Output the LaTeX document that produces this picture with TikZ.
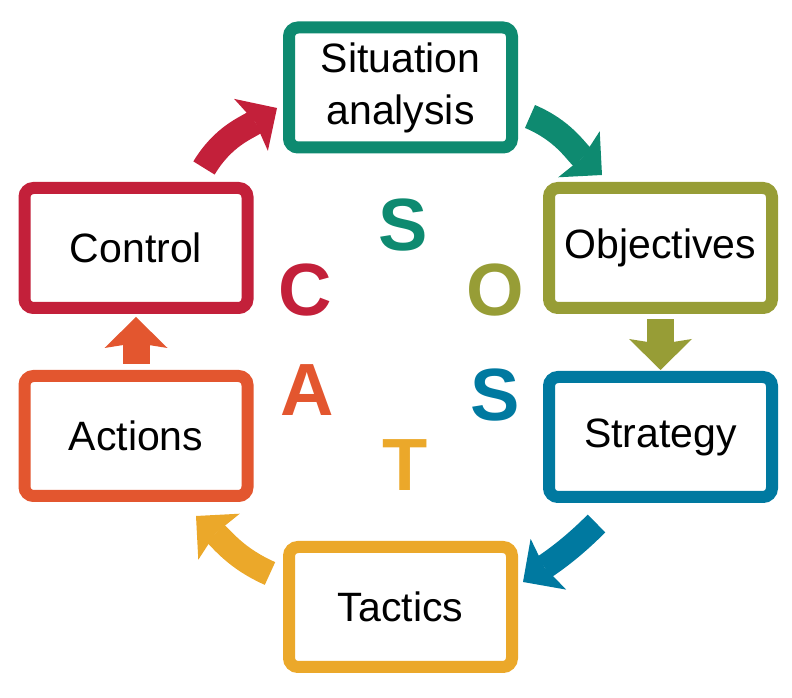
\documentclass[tikz,border=0pt]{standalone}
\usepackage{fontspec}
\setmainfont{Liberation Sans}
\usetikzlibrary{arrows.meta}

\begin{document}
\begin{tikzpicture}[x=1pt,y=1pt,
  box/.style={draw, line width=12pt, rounded corners=9pt, fill=white,
    minimum width=223pt, minimum height=120pt, inner sep=0pt,
    align=center, font=\fontsize{41}{52}\selectfont},
  cyc/.style={line width=25pt,
    -{Stealth[length=31pt,width=62pt,inset=5pt,line width=0pt]}},
  updown/.style={line width=27pt,
    -{Stealth[length=31pt,width=63pt,inset=5pt,line width=0pt]}},
  letter/.style={font=\fontsize{74}{74}\selectfont\bfseries}]

% Colori
\definecolor{colGreen}{HTML}{0E8A70}
\definecolor{colOlive}{HTML}{979D36}
\definecolor{colBlue}{HTML}{0079A0}
\definecolor{colYellow}{HTML}{EBA82A}
\definecolor{colOrange}{HTML}{E3562F}
\definecolor{colRed}{HTML}{C3203A}

\useasboundingbox (0,0) rectangle (792,698);

% Riquadri
\node[box, draw=colGreen] (sit) at (400.5,610.5) {Situation\\analysis};
\node[box, draw=colOlive] (obj) at (660.5,450) {Objectives};
\node[box, draw=colBlue] (str) at (660.5,261) {Strategy};
\node[box, draw=colYellow] (tac) at (400.5,91) {Tactics};
\node[box, draw=colOrange] (act) at (136,262) {Actions};
\node[box, draw=colRed] (ctl) at (136,450) {Control};

% Lettere
\node[letter, text=colGreen] (lS) at (403,473) {S};
\node[letter, text=colOlive] (lO) at (495,408) {O};
\node[letter, text=colBlue] (lSt) at (495,303) {S};
\node[letter, text=colYellow] (lT) at (405,233) {T};
\node[letter, text=colOrange] (lA) at (307,308) {A};
\node[letter, text=colRed] (lC) at (305,408) {C};

% Frecce curve
\coordinate (redA) at (204,530);
\coordinate (redB) at (277,590);
\coordinate (greenA) at (530,581.5);
\coordinate (greenB) at (602,523);
\coordinate (blueA) at (596.5,174.5);
\coordinate (blueB) at (523,116);
\coordinate (yelA) at (270,124.5);
\coordinate (yelB) at (196,182);

\draw[cyc, colRed] (redA) to[out=59,in=213] (redB);
\draw[cyc, colGreen] (greenA) to[out=-23,in=138] (greenB);
\draw[cyc, colBlue] (blueA) to[out=-135,in=35] (blueB);
\draw[cyc, colYellow] (yelA) to[out=156,in=-42] (yelB);

% Frecce dritte
\draw[updown, colOlive, shorten <=5.5pt, shorten >=1pt] (obj.south) -- (str.north);
\draw[updown, colOrange, shorten <=6pt, shorten >=3pt] (act.north) -- (ctl.south);

\end{tikzpicture}
\end{document}
